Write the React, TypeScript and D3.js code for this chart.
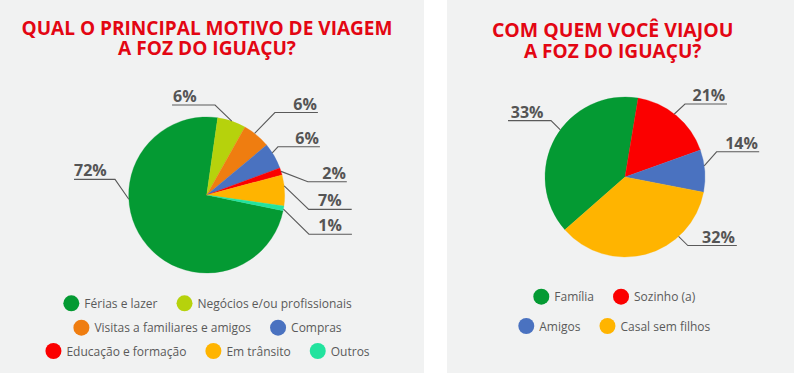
import React, { useEffect, useRef } from "react"
import * as d3 from "d3"

// --- dados: motivo da viagem ---
const motivoCategorias = [
  "Férias e lazer",
  "Negócios e/ou profissionais",
  "Visitas a familiares e amigos",
  "Compras",
  "Educação e formação",
  "Em trânsito",
  "Outros",
]
const motivoRotulos = ["72%", "6%", "6%", "6%", "2%", "7%", "1%"]
const motivoFatias = [74, 5.9, 5.8, 5.4, 1.5, 6.4, 1.0]
const motivoCores = ["#049a33", "#b6d20c", "#ef7d10", "#4a72c0", "#fb0000", "#ffb400", "#22e39e"]
const motivoLegendaLinhas = [[0, 1], [2, 3], [4, 5, 6]]

// --- dados: com quem viajou ---
const companhiaCategorias = ["Família", "Sozinho (a)", "Amigos", "Casal sem filhos"]
const companhiaRotulos = ["33%", "21%", "14%", "32%"]
const companhiaFatias = [39.1, 16.9, 8.5, 35.5]
const companhiaCores = ["#049a33", "#fb0000", "#4a72c0", "#ffb400"]
const companhiaLegendaLinhas = [[0, 1], [2, 3]]

const tituloMotivo = ["QUAL O PRINCIPAL MOTIVO DE VIAGEM", "A FOZ DO IGUAÇU?"]
const tituloCompanhia = ["COM QUEM VOCÊ VIAJOU", "A FOZ DO IGUAÇU?"]

// leader line layout (t: attach point along slice, a/r: elbow polar, len: underline)
const motivoGuias = [
  { t: 0.62, a: 279.7, r: 93, len: 41, dir: -1, tx: 0 },
  { t: 0.5, a: 5.3, r: 90.4, len: 43, dir: -1, tx: 1 },
  { t: 0.41, a: 39.6, r: 107, len: 43, dir: 1, tx: -1 },
  { t: 0.36, a: 55.9, r: 86, len: 42, dir: 1, tx: -1 },
  { t: 0.5, a: 82.5, r: 102, len: 39, dir: 1, tx: -1 },
  { t: 0.36, a: 98, r: 103, len: 43, dir: 1, tx: -10 },
  { t: 0.64, a: 111, r: 109.5, len: 43, dir: 1, tx: -10 },
]
const companhiaGuias = [
  { t: 0.55, a: 307.3, r: 93, len: 43, dir: -1, tx: 2.7 },
  { t: 0.47, a: 39.4, r: 94.5, len: 42, dir: 1, tx: -1.7 },
  { t: 0.38, a: 74.6, r: 95, len: 42.6, dir: 1, tx: -1.3 },
  { t: 0.29, a: 137.5, r: 93, len: 49, dir: 1, tx: -2 },
]

const FONT = "'Open Sans', 'Noto Sans', sans-serif"
const rad = (d) => (d * Math.PI) / 180

function drawPanel(svg, cfg) {
  const g = svg.append("g")

  // title
  cfg.titulo.forEach((linha, i) => {
    g.append("text")
      .attr("x", cfg.tituloX)
      .attr("y", cfg.tituloY[i])
      .attr("text-anchor", "middle")
      .attr("font-family", FONT)
      .attr("font-weight", 700)
      .attr("font-size", 19)
      .attr("fill", "#e30613")
      .attr("textLength", cfg.tituloLarg[i])
      .attr("lengthAdjust", "spacingAndGlyphs")
      .text(linha)
  })

  const pie = d3.pie().sort(null).value((d) => d)
    .startAngle(rad(cfg.inicio)).endAngle(rad(cfg.inicio + 360))
  const arcs = pie(cfg.fatias)
  const arc = d3.arc().innerRadius(0).outerRadius(cfg.raio)

  const pg = g.append("g").attr("transform", `translate(${cfg.cx},${cfg.cy})`)
  pg.selectAll("path")
    .data(arcs)
    .enter()
    .append("path")
    .attr("d", arc)
    .attr("fill", (d, i) => cfg.cores[i])
    .attr("stroke", (d, i) => cfg.cores[i])
    .attr("stroke-width", 0.3)

  // labels with leader lines
  arcs.forEach((s, i) => {
    const L = cfg.guias[i]
    const ang = s.startAngle + L.t * (s.endAngle - s.startAngle)
    const x0 = cfg.raio * Math.sin(ang)
    const y0 = -cfg.raio * Math.cos(ang)
    const x1 = L.r * Math.sin(rad(L.a))
    const y1 = -L.r * Math.cos(rad(L.a))
    const x2 = x1 + L.dir * L.len
    pg.append("path")
      .attr("d", d3.line()([[x0, y0], [x1, y1], [x2, y1]]))
      .attr("fill", "none")
      .attr("stroke", "#5a5a5a")
      .attr("stroke-width", 1.1)
    pg.append("text")
      .attr("x", x2 + L.tx)
      .attr("y", y1 - 3)
      .attr("text-anchor", L.dir < 0 ? "start" : "end")
      .attr("font-family", FONT)
      .attr("font-weight", 700)
      .attr("font-size", 16)
      .attr("fill", "#555555")
      .text(cfg.rotulos[i])
  })

  // legend
  cfg.legenda.forEach((linha, li) => {
    const row = g.append("g")
    let x = 0
    linha.forEach((idx) => {
      row.append("circle")
        .attr("cx", x + 8)
        .attr("cy", 0)
        .attr("r", 8)
        .attr("fill", cfg.cores[idx])
      const t = row.append("text")
        .attr("x", x + 21)
        .attr("y", 4.5)
        .attr("font-family", FONT)
        .attr("font-size", 12)
        .attr("fill", "#5a5a5a")
        .text(cfg.categorias[idx])
      x += 21 + t.node().getComputedTextLength() + 19
    })
    const w = x - 19
    row.attr("transform", `translate(${cfg.legX - w / 2},${cfg.legY[li]})`)
  })
}

export default function App() {
  const ref = useRef(null)

  useEffect(() => {
    document.body.style.margin = "0"
    const svg = d3.select(ref.current)
    svg.selectAll("*").remove()

    svg.append("rect").attr("width", 794).attr("height", 373).attr("fill", "#ffffff")
    svg.append("rect").attr("x", 0).attr("width", 424).attr("height", 373).attr("fill", "#f1f2f2")
    svg.append("rect").attr("x", 447).attr("width", 347).attr("height", 373).attr("fill", "#f1f2f2")

    drawPanel(svg, {
      titulo: tituloMotivo,
      tituloX: 207,
      tituloY: [35, 55],
      tituloLarg: [371, 178],
      fatias: motivoFatias,
      cores: motivoCores,
      rotulos: motivoRotulos,
      categorias: motivoCategorias,
      guias: motivoGuias,
      legenda: motivoLegendaLinhas,
      inicio: 101.7,
      cx: 206.7,
      cy: 195,
      raio: 78,
      legX: 207.5,
      legY: [303.3, 327.7, 351],
    })

    drawPanel(svg, {
      titulo: tituloCompanhia,
      tituloX: 612.7,
      tituloY: [36.7, 57.5],
      tituloLarg: [241.5, 177.5],
      fatias: companhiaFatias,
      cores: companhiaCores,
      rotulos: companhiaRotulos,
      categorias: companhiaCategorias,
      guias: companhiaGuias,
      legenda: companhiaLegendaLinhas,
      inicio: 228.7,
      cx: 625,
      cy: 177,
      raio: 80,
      legX: 614.3,
      legY: [296.7, 326],
    })
  }, [])

  return <svg ref={ref} width={794} height={373} style={{ display: "block" }} />
}
